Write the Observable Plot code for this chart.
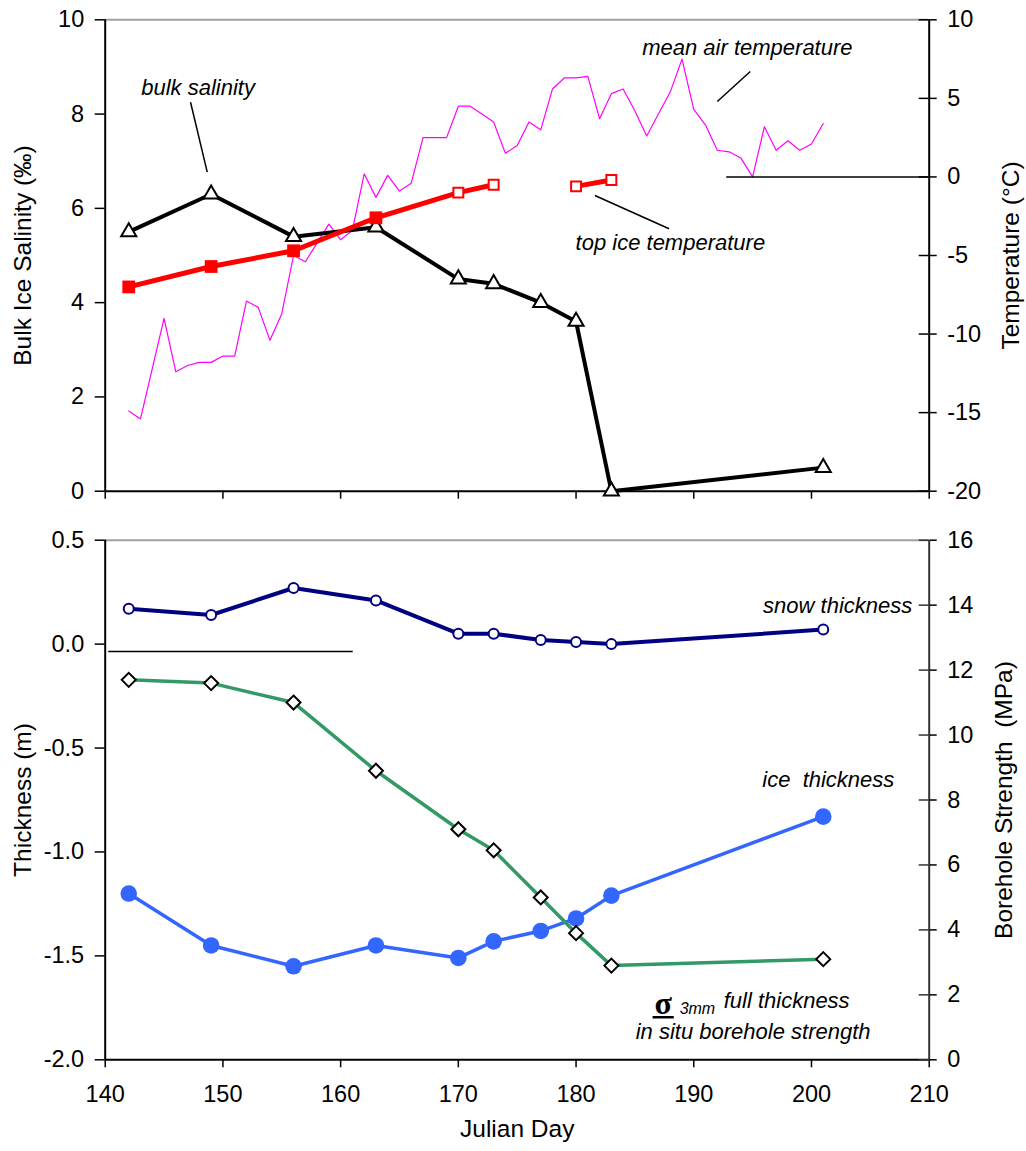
<!DOCTYPE html>
<html>
<head>
<meta charset="utf-8">
<script src="https://cdn.jsdelivr.net/npm/d3@7"></script>
<script src="https://cdn.jsdelivr.net/npm/@observablehq/plot@0.6"></script>
<style>
  body { margin: 0; background: #fff; }
  #chart { position: relative; width: 1026px; height: 1151px; }
  #chart svg { position: absolute; left: 0; top: 0; }
  #chart text { white-space: pre; }
</style>
</head>
<body>
<div id="chart"></div>
<script>
// ---- Field samples (Julian day) ----
const sampleDays = [142, 149, 156, 163, 170, 173, 177, 180, 183, 201];
const bulkSalinity = [5.5, 6.3, 5.4, 5.6, 4.5, 4.4, 4.0, 3.6, 0.0, 0.5];          // ‰
const snowThickness = [0.17, 0.14, 0.27, 0.21, 0.05, 0.05, 0.02, 0.01, 0.00, 0.07]; // m
const iceThickness = [-1.20, -1.45, -1.55, -1.45, -1.51, -1.43, -1.38, -1.32, -1.21, -0.83]; // m (below surface)
const boreholeStrength = [11.7, 11.6, 11.0, 8.9, 7.1, 6.45, 5.0, 3.9, 2.9, 3.1];  // MPa

// ---- Top ice temperature (°C); two separate runs of measurements ----
const iceTempDays = [142, 149, 156, 163, 170, 173, 180, 183];
const topIceTemp = [-7.0, -5.7, -4.7, -2.6, -1.0, -0.5, -0.6, -0.2];
const iceTempRun = [1, 1, 1, 1, 1, 1, 2, 2];
const iceTempFilled = [true, true, true, true, false, false, false, false];

// ---- Daily mean air temperature (°C) ----
const airTempDays = [142, 143, 144, 145, 146, 147, 148, 149, 150, 151,
                     152, 153, 154, 155, 156, 157, 158, 159, 160, 161,
                     162, 163, 164, 165, 166, 167, 168, 169, 170, 171,
                     172, 173, 174, 175, 176, 177, 178, 179, 180, 181,
                     182, 183, 184, 185, 186, 187, 188, 189, 190, 191,
                     192, 193, 194, 195, 196, 197, 198, 199, 200, 201];
const airTemp = [-14.9, -15.4, -12.2, -9.0, -12.4, -12.0, -11.8, -11.8, -11.4, -11.4,
                 -7.9, -8.3, -10.4, -8.7, -5.0, -5.4, -4.2, -3.0, -4.0, -3.4,
                 0.2, -1.3, 0.1, -0.9, -0.4, 2.5, 2.5, 2.5, 4.5, 4.5,
                 4.0, 3.5, 1.5, 2.0, 3.5, 3.0, 5.6, 6.3, 6.3, 6.4,
                 3.7, 5.3, 5.6, 4.2, 2.6, 4.0, 5.4, 7.5, 4.3, 3.3,
                 1.7, 1.6, 1.2, 0.0, 3.2, 1.7, 2.3, 1.7, 2.1, 3.4];

// ---- Axis ticks ----
const dayTicks = [140, 150, 160, 170, 180, 190, 200, 210];
const salinityTicks = [0, 2, 4, 6, 8, 10];
const temperatureTicks = [-20, -15, -10, -5, 0, 5, 10];
const thicknessTicks = [-2.0, -1.5, -1.0, -0.5, 0.0, 0.5];
const strengthTicks = [0, 2, 4, 6, 8, 10, 12, 14, 16];

// ---- Rows for the marks ----
const salinityRows = sampleDays.map((day, i) => ({day, value: bulkSalinity[i]}));
const snowRows = sampleDays.map((day, i) => ({day, value: snowThickness[i]}));
const iceRows = sampleDays.map((day, i) => ({day, value: iceThickness[i]}));
const strengthRows = sampleDays.map((day, i) => ({day, value: boreholeStrength[i]}));
const iceTempRows = iceTempDays.map((day, i) => ({day, value: topIceTemp[i], run: iceTempRun[i], filled: iceTempFilled[i]}));
const airRows = airTempDays.map((day, i) => ({day, value: airTemp[i]}));

// ---- Layout ----
const W = 1026, H = 1151;
const FONT = "'Liberation Sans', Arial, Helvetica, sans-serif";
const TICK_FONT = 23.5;
const TITLE_FONT = 24.5;
const frameX = {marginLeft: 104.7, marginRight: W - 928.7};
const topFrame = {marginTop: 19.3, marginBottom: H - 490.7};
const bottomFrame = {marginTop: 539.7, marginBottom: H - 1059.3};
const xDomain = [140, 210];
const rightInnerTick = 10 / ((928.7 - 104.7) / 70); // 10px inward tick, in days

function layer(frame, yDomain, marks) {
  return Plot.plot({
    width: W, height: H, ...frameX, ...frame,
    x: {domain: xDomain, axis: null},
    y: {domain: yDomain, axis: null},
    style: {background: "transparent", fontFamily: FONT, fontSize: "22px", overflow: "visible", color: "black"},
    marks
  });
}

const ital = {fontStyle: "italic", fontSize: 22, fill: "black"};
const leader = {x1: "x1", y1: "y1", x2: "x2", y2: "y2", stroke: "black", strokeWidth: 1.5};
const axisTitle = {text: d => d, rotate: -90, textAnchor: "middle", fontSize: TITLE_FONT, fill: "black"};
const leftAxis = {anchor: "left", tickSize: 10, tickPadding: 11, fontSize: TICK_FONT, strokeWidth: 1.5, label: null};
const rightAxis = {anchor: "right", tickSize: 7, tickPadding: 11, fontSize: TICK_FONT, strokeWidth: 1.5, label: null};

// Top panel, temperature scale: air temperature underneath everything
const airLayer = layer(topFrame, [-20, 10], [
  Plot.line(airRows, {x: "day", y: "value", stroke: "#ff00ff", strokeWidth: 1.2})
]);

// Top panel, salinity scale
const salinityLayer = layer(topFrame, [0, 10], [
  Plot.ruleY([10], {stroke: "#a0a0a0", strokeWidth: 2}),
  Plot.ruleX([140], {stroke: "black", strokeWidth: 2}),
  Plot.ruleY([0], {stroke: "black", strokeWidth: 2}),
  Plot.axisY(salinityTicks, {...leftAxis, tickFormat: d => String(d)}),
  Plot.axisX(dayTicks, {anchor: "bottom", tickSize: 8, strokeWidth: 1.5, tickFormat: () => "", label: null}),
  Plot.line(salinityRows, {x: "day", y: "value", stroke: "black", strokeWidth: 4}),
  Plot.dot(salinityRows, {x: "day", y: "value", symbol: "triangle", r: 5.6, fill: "white", stroke: "black", strokeWidth: 2}),
  Plot.text(["bulk salinity"], {x: 143.06, y: 8.56, text: d => d, textAnchor: "start", ...ital}),
  Plot.link([{x1: 147.25, y1: 8.25, x2: 148.67, y2: 6.77}], leader),
  Plot.text(["Bulk Ice Salinity (‰)"], {...axisTitle, frameAnchor: "left", dx: -82})
]);

// Top panel, temperature scale: top ice temperature and right axis
const iceTempLayer = layer(topFrame, [-20, 10], [
  Plot.ruleX([210], {stroke: "black", strokeWidth: 2}),
  Plot.axisY(temperatureTicks, {...rightAxis, tickFormat: d => String(d)}),
  Plot.ruleY(temperatureTicks, {x1: 210 - rightInnerTick, x2: 210, stroke: "black", strokeWidth: 1.5}),
  Plot.ruleY([0], {x1: 192.8, x2: 210, stroke: "black", strokeWidth: 1.5}),
  Plot.line(iceTempRows, {x: "day", y: "value", z: "run", stroke: "#ff0000", strokeWidth: 5}),
  Plot.dot(iceTempRows.filter(d => d.filled), {x: "day", y: "value", symbol: "square", r: 7.2, fill: "#ff0000"}),
  Plot.dot(iceTempRows.filter(d => !d.filled), {x: "day", y: "value", symbol: "square", r: 5.6, fill: "white", stroke: "#ff0000", strokeWidth: 2}),
  Plot.text(["mean air temperature"], {x: 185.62, y: 8.22, text: d => d, textAnchor: "start", ...ital}),
  Plot.link([{x1: 194.8, y1: 6.71, x2: 192.0, y2: 4.80}], leader),
  Plot.text(["top ice temperature"], {x: 179.96, y: -4.23, text: d => d, textAnchor: "start", ...ital}),
  Plot.link([{x1: 181.6, y1: -1.18, x2: 187.9, y2: -3.30}], leader),
  Plot.text(["Temperature (°C)"], {...axisTitle, frameAnchor: "right", dx: 82})
]);

// Bottom panel, thickness scale
const thicknessLayer = layer(bottomFrame, [-2, 0.5], [
  Plot.ruleY([0.5], {stroke: "#a0a0a0", strokeWidth: 2}),
  Plot.ruleX([140], {stroke: "black", strokeWidth: 2}),
  Plot.ruleY([-2], {stroke: "black", strokeWidth: 2}),
  Plot.axisY(thicknessTicks, {...leftAxis, tickFormat: d => d.toFixed(1)}),
  Plot.axisX(dayTicks, {anchor: "bottom", tickSize: 8, tickPadding: 18, fontSize: TICK_FONT, strokeWidth: 1.5, tickFormat: d => String(d), label: null}),
  Plot.ruleY([-0.036], {x1: 140.3, x2: 161.07, stroke: "black", strokeWidth: 1.5}),
  Plot.line(snowRows, {x: "day", y: "value", stroke: "#000080", strokeWidth: 4}),
  Plot.dot(snowRows, {x: "day", y: "value", r: 5, fill: "white", stroke: "#000080", strokeWidth: 2}),
  Plot.line(iceRows, {x: "day", y: "value", stroke: "#3366ff", strokeWidth: 3.5}),
  Plot.dot(iceRows, {x: "day", y: "value", r: 8.3, fill: "#3366ff"}),
  Plot.text(["snow thickness"], {x: 208.56, y: 0.183, text: d => d, textAnchor: "end", ...ital}),
  Plot.text(["ice  thickness"], {x: 195.82, y: -0.652, text: d => d, textAnchor: "start", ...ital}),
  Plot.text(["Thickness (m)"], {...axisTitle, frameAnchor: "left", dx: -82}),
  Plot.text(["Julian Day"], {text: d => d, frameAnchor: "bottom", dy: 77, fontSize: TITLE_FONT, fill: "black"})
]);

// Bottom panel, borehole strength scale
const strengthLayer = layer(bottomFrame, [0, 16], [
  Plot.ruleX([210], {stroke: "#333", strokeWidth: 2}),
  Plot.axisY(strengthTicks, {...rightAxis, tickFormat: d => String(d)}),
  Plot.ruleY(strengthTicks, {x1: 210 - rightInnerTick, x2: 210, stroke: "#333", strokeWidth: 1.5}),
  Plot.line(strengthRows, {x: "day", y: "value", stroke: "#339966", strokeWidth: 3.5}),
  Plot.dot(strengthRows, {x: "day", y: "value", symbol: "diamond2", r: 6.3, fill: "white", stroke: "black", strokeWidth: 2}),
  Plot.text(["σ"], {x: 187.41, y: 1.72, text: d => d, fontFamily: "'Liberation Serif', 'DejaVu Serif', serif", fontWeight: "bold", fontSize: 32, fill: "black"}),
  Plot.link([{x1: 186.5, y1: 1.31, x2: 188.3, y2: 1.31}], {...leader, strokeWidth: 2.5}),
  Plot.text(["3mm"], {x: 188.8, y: 1.57, text: d => d, textAnchor: "start", fontStyle: "italic", fontSize: 16, fill: "black"}),
  Plot.text(["full thickness"], {x: 192.54, y: 1.81, text: d => d, textAnchor: "start", ...ital}),
  Plot.text(["in situ borehole strength"], {x: 195.04, y: 0.86, text: d => d, ...ital}),
  Plot.text(["Borehole Strength  (MPa)"], {...axisTitle, frameAnchor: "right", dx: 75})
]);

const chart = document.getElementById("chart");
for (const svg of [airLayer, salinityLayer, iceTempLayer, thicknessLayer, strengthLayer]) {
  chart.appendChild(svg);
}
</script>
</body>
</html>
